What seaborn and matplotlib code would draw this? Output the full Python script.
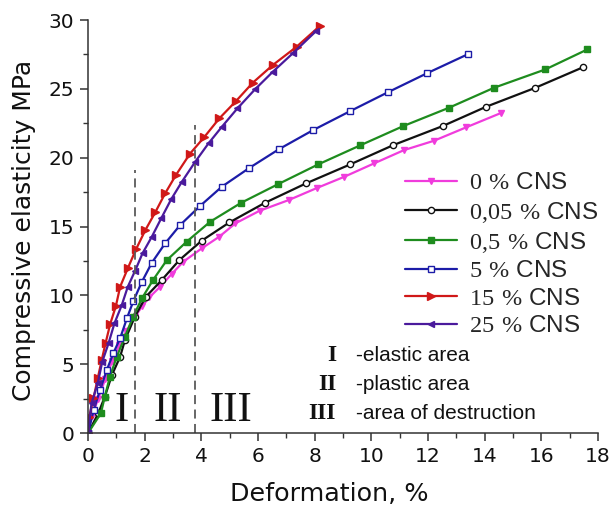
import matplotlib
matplotlib.use("Agg")
import matplotlib.pyplot as plt
import seaborn as sns
import pandas as pd
from matplotlib.ticker import MultipleLocator

sns.set_theme(style="ticks")
plt.rcParams['font.family'] = ['Liberation Sans', 'DejaVu Sans']
plt.rcParams['mathtext.fontset'] = 'custom'
plt.rcParams['mathtext.rm'] = 'Liberation Sans'
plt.rcParams['mathtext.sf'] = 'Liberation Serif'
plt.rcParams['mathtext.bf'] = 'Liberation Serif:bold'

# ---- data ----
x_0 = [0, 0.12, 0.36, 0.6, 0.85, 1.1, 1.35, 1.65, 1.9, 2.16, 2.54, 2.95, 3.36, 4.01, 4.63,
       5.2, 6.05, 7.08, 8.09, 9.04, 10.10, 11.15, 12.21, 13.34, 14.59]
y_0 = [0, 1.2, 2.5, 3.9, 5.2, 6.4, 7.4, 8.4, 9.2, 9.85, 10.62, 11.55, 12.44, 13.41, 14.26,
       15.23, 16.14, 16.92, 17.81, 18.61, 19.59, 20.55, 21.23, 22.20, 23.26]

x_005 = [0, 0.36, 0.59, 0.84, 1.13, 1.30, 1.65, 2.04, 2.60, 3.22, 4.01, 4.99, 6.24, 7.69,
         9.25, 10.78, 12.52, 14.05, 15.79, 17.46]
y_005 = [0, 1.43, 2.64, 4.21, 5.54, 6.75, 8.45, 9.90, 11.11, 12.56, 13.97, 15.30, 16.72,
         18.13, 19.51, 20.92, 22.30, 23.70, 25.08, 26.56]

x_05 = [0, 0.45, 0.59, 0.77, 1.01, 1.30, 1.59, 1.90, 2.29, 2.78, 3.48, 4.31, 5.40, 6.71,
        8.12, 9.60, 11.13, 12.73, 14.33, 16.14, 17.62]
y_05 = [0, 1.43, 2.64, 4.09, 5.54, 6.99, 8.45, 9.78, 11.11, 12.56, 13.90, 15.35, 16.72,
        18.08, 19.51, 20.89, 22.30, 23.62, 25.08, 26.41, 27.86]

x_5 = [0, 0.2, 0.42, 0.66, 0.89, 1.13, 1.37, 1.60, 1.90, 2.25, 2.72, 3.25, 3.95, 4.72,
       5.68, 6.74, 7.94, 9.25, 10.59, 11.97, 13.41]
y_5 = [0, 1.7, 3.12, 4.58, 5.79, 6.88, 8.33, 9.6, 10.99, 12.37, 13.78, 15.11, 16.49, 17.89,
       19.24, 20.62, 22.0, 23.38, 24.76, 26.14, 27.52]

x_15 = [0, 0.04, 0.19, 0.34, 0.48, 0.62, 0.78, 0.98, 1.13, 1.40, 1.69, 2.02, 2.37, 2.72,
        3.10, 3.60, 4.09, 4.63, 5.22, 5.81, 6.52, 7.36, 8.17]
y_15 = [0, 1.18, 2.52, 3.97, 5.30, 6.56, 7.92, 9.22, 10.62, 11.96, 13.34, 14.74, 16.03,
        17.41, 18.74, 20.3, 21.47, 22.85, 24.11, 25.44, 26.73, 28.06, 29.55]

x_25 = [0, 0.12, 0.34, 0.50, 0.72, 0.93, 1.19, 1.40, 1.66, 1.92, 2.25, 2.58, 2.93, 3.31,
        3.78, 4.25, 4.72, 5.27, 5.89, 6.52, 7.22, 8.05]
y_25 = [0, 2.16, 3.61, 5.18, 6.51, 7.97, 9.30, 10.62, 11.79, 13.05, 14.26, 15.59, 16.97,
        18.25, 19.70, 21.04, 22.24, 23.58, 24.96, 26.24, 27.57, 29.2]

conc = ["0", "0,05", "0,5", "5", "15", "25"]
labels = [c + " % CNS" for c in conc]
xs = [x_0, x_005, x_05, x_5, x_15, x_25]
ys = [y_0, y_005, y_05, y_5, y_15, y_25]

zone_bounds = [1.67, 3.79]
zone_tops = [19.1, 22.4]
zone_names = ["I", "II", "III"]
zone_x = [1.2, 2.8, 5.03]
zone_desc = ["-elastic area", "-plastic area", "-area of destruction"]

colors = ["#F03CDC", "#111111", "#1E8C1E", "#1C1CA8", "#D01818", "#4A1A9C"]
markers = ["v", "o", "s", "s", ">", "<"]
mfaces = [None, "white", None, "white", None, None]
msizes = [5, 4.5, 4.5, 4.5, 5.5, 4.5]

fig = plt.figure(figsize=(6.14, 5.08), dpi=100)
ax = fig.add_axes([0.1435, 0.1476, 0.8305, 0.8130])

for c_, lab, xv, yv, c, m, mf, ms in zip(conc, labels, xs, ys, colors, markers, mfaces, msizes):
    df = pd.DataFrame({"x": xv, "y": yv})
    kw = dict(marker=m, markersize=ms, markeredgecolor=c, markeredgewidth=1.0,
              markerfacecolor=(mf if mf is not None else c))
    num = c_.replace(",", "{,}")
    lab_tex = r"$\mathsf{" + num + r"\ \%}$ CNS"
    sns.lineplot(data=df, x="x", y="y", ax=ax, color=c, lw=1.6, sort=False,
                 estimator=None, label=lab_tex, **kw)

for xb, yt in zip(zone_bounds, zone_tops):
    ax.plot([xb, xb], [0, yt], color="#5a5a5a", lw=1.3, dashes=(5, 3))

for name, zx in zip(zone_names, zone_x):
    ax.text(zx, 1.6, name, fontsize=31, family="Liberation Serif",
            ha="center", va="center", color="#111111")

ax.set_xlim(0, 18)
ax.set_ylim(0, 30)
ax.xaxis.set_major_locator(MultipleLocator(2))
ax.xaxis.set_minor_locator(MultipleLocator(1))
ax.yaxis.set_major_locator(MultipleLocator(5))
ax.yaxis.set_minor_locator(MultipleLocator(2.5))
ax.tick_params(which="major", length=6, width=1.1, labelsize=14.5, color="#333333",
               labelcolor="#111111", direction="out", pad=4)
ax.tick_params(which="minor", length=3.5, width=1.0, color="#333333", direction="out")
for lbl in ax.get_xticklabels() + ax.get_yticklabels():
    lbl.set_family("DejaVu Sans")
for s in ["top", "right"]:
    ax.spines[s].set_visible(False)
for s in ["left", "bottom"]:
    ax.spines[s].set_color("#333333")
    ax.spines[s].set_linewidth(1.1)

ax.set_xlabel("Deformation, %", fontsize=18.3, color="#111111", family="DejaVu Sans")
ax.set_ylabel("Compressive elasticity MPa", fontsize=18, color="#111111", family="DejaVu Sans")
ax.xaxis.set_label_coords(0.473, -0.118)
ax.yaxis.set_label_coords(-0.102, 0.49)

leg = ax.legend(loc="upper left", bbox_to_anchor=(0.603, 0.655), frameon=False,
                fontsize=17.5, handlelength=2.14, handletextpad=0.5, labelspacing=0.22,
                borderaxespad=0)

for i, (name, desc) in enumerate(zip(zone_names, zone_desc)):
    yy = 5.6 - i * 2.1
    ax.text(8.75, yy, name, fontsize=17, family="Liberation Serif", fontweight="bold",
            ha="right", va="center", color="#111111")
    ax.text(9.45, yy, desc, fontsize=15, ha="left", va="center", color="#111111")

fig.savefig("out.png", dpi=100)
